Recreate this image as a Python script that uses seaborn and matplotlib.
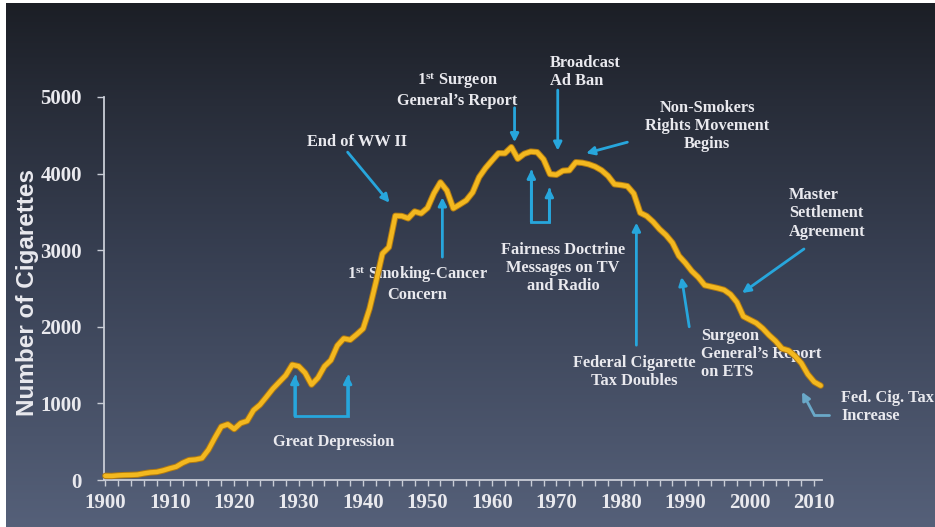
import numpy as np
import pandas as pd
import matplotlib
matplotlib.use("Agg")
import matplotlib.pyplot as plt
import matplotlib.patheffects as pe
import seaborn as sns

# ---------------- data ----------------
years = list(range(1900, 2012))
cigarettes = [
    54, 53, 60, 64, 66, 70, 86, 99, 105, 125,
    151, 173, 223, 260, 267, 285, 395, 551, 697, 727,
    665, 742, 770, 911, 982, 1085, 1191, 1279, 1366, 1504,
    1485, 1399, 1245, 1334, 1483, 1564, 1754, 1847, 1830, 1900,
    1976, 2236, 2585, 2956, 3039, 3449, 3446, 3416, 3505, 3480,
    3552, 3744, 3886, 3778, 3546, 3597, 3650, 3755, 3953, 4073,
    4171, 4266, 4265, 4345, 4194, 4258, 4287, 4280, 4186, 3993,
    3985, 4037, 4043, 4148, 4141, 4122, 4091, 4043, 3970, 3861,
    3851, 3836, 3739, 3488, 3446, 3370, 3274, 3197, 3096, 2926,
    2834, 2727, 2647, 2543, 2524, 2505, 2482, 2423, 2320, 2136,
    2092, 2049, 1979, 1890, 1814, 1716, 1691, 1619, 1525, 1380,
    1280, 1232,
]
ytick_values = [0, 1000, 2000, 3000, 4000, 5000]
xtick_values = list(range(1900, 2011, 10))
ylabel = "Number of Cigarettes"

df = pd.DataFrame({"year": years, "cigs": cigarettes})

# ---------------- style ----------------
sns.set_style("ticks")
plt.rcParams["font.family"] = ["Liberation Serif", "DejaVu Serif"]
plt.rcParams["mathtext.fontset"] = "custom"
plt.rcParams["mathtext.rm"] = "Liberation Serif:bold"
plt.rcParams["mathtext.it"] = "Liberation Serif:bold"
plt.rcParams["mathtext.bf"] = "Liberation Serif:bold"

TXT = "#e9e9ee"
ARROW = "#27a6dc"
SPINE = "#c9cdd6"
GOLD = "#f3b81f"

fig = plt.figure(figsize=(9.35, 5.27), dpi=100)

# background gradient
bg = fig.add_axes([0, 0, 1, 1], zorder=-10)
stops = [0.0, 0.2, 0.5, 1.0]
cols = np.array([[27, 30, 37], [40, 45, 57], [56, 64, 83], [85, 96, 121]]) / 255.0
t = np.linspace(0, 1, 300)
grad = np.stack([np.interp(t, stops, cols[:, c]) for c in range(3)], axis=1)
img = np.repeat(grad[:, None, :], 10, axis=1)
bg.imshow(img, aspect="auto", extent=[0, 1, 0, 1], origin="upper")
bg.set_xlim(0, 1)
bg.set_ylim(0, 1)
bg.axis("off")
# thin white borders (left and top) as in the reference screenshot
bg.add_patch(plt.Rectangle((0, 0), 6 / 935, 1, color="white", lw=0))
bg.add_patch(plt.Rectangle((0, 1 - 3 / 527), 1, 3 / 527, color="white", lw=0))

L, R, B, T = 104 / 935, 822 / 935, 47 / 527, 430 / 527
ax = fig.add_axes([L, B, R - L, T - B])
ax.set_facecolor("none")

sns.lineplot(data=df, x="year", y="cigs", ax=ax, color=GOLD, linewidth=3.2,
             path_effects=[pe.Stroke(linewidth=4.6, foreground="#b07a12"), pe.Normal()],
             clip_on=False, zorder=5)

ax.set_xlim(1899.8, 2011.2)
ax.set_ylim(0, 5000)
ax.set_xlabel("")
ax.set_ylabel("")

ax.set_yticks(ytick_values)
ax.set_yticklabels([str(v) for v in ytick_values])
ax.set_xticks(xtick_values)
ax.set_xticklabels([str(v) for v in xtick_values])
ax.set_xticks(list(range(1900, 2012, 2)), minor=True)

for lab in ax.get_yticklabels() + ax.get_xticklabels():
    lab.set_fontweight("bold")
    lab.set_color(TXT)
    lab.set_fontsize(15)
ax.tick_params(axis="y", which="major", length=5, width=1, color=SPINE, pad=11)
ax.tick_params(axis="x", which="both", length=4, width=1, color=SPINE, pad=5)

sns.despine(ax=ax)
for s in ["left", "bottom"]:
    ax.spines[s].set_color(SPINE)
    ax.spines[s].set_linewidth(1.3)

fig.text(28 / 935, 1 - 292 / 527, ylabel, rotation=90, ha="center", va="center",
         color=TXT, fontsize=17.5, fontweight="bold",
         family=["Liberation Sans", "DejaVu Sans"])

# ---------------- annotations ----------------
FS = 11.8
tkw = dict(color=TXT, fontsize=FS, fontweight="bold", linespacing=1.18,
           annotation_clip=False)


def label(x, y, s, ha="center"):
    ax.annotate(s, xy=(x, y), xycoords="data", ha=ha, va="center", **tkw)


def arrow(x0, y0, x1, y1, color=ARROW):
    ax.annotate("", xy=(x1, y1), xytext=(x0, y0), xycoords="data",
                annotation_clip=False,
                arrowprops=dict(arrowstyle="-|>", color=color, lw=2,
                                mutation_scale=12, shrinkA=0, shrinkB=0))


def bracket(xa, ya, xb, yb, ybot):
    ax.plot([xa, xa, xb, xb], [ya * 0.98 + ybot * 0.02, ybot, ybot, yb * 0.98 + ybot * 0.02],
            color=ARROW, lw=2, clip_on=False, solid_joinstyle="miter")
    arrow(xa, ybot, xa, ya)
    arrow(xb, ybot, xb, yb)


# Great Depression
label(1935.4, 490, "Great Depression")
bracket(1929.4, 1370, 1937.6, 1370, 836)

# End of WW II
label(1939.0, 4410, "End of WW II")
arrow(1937.6, 4280, 1944.1, 3620)

# 1st Smoking-Cancer Concern
label(1948.4, 2560, "1$^{\\rm st}$ Smoking-Cancer\nConcern")
arrow(1952.3, 2910, 1952.3, 3690)

# 1st Surgeon General's Report
label(1954.6, 5090, "1$^{\\rm st}$ Surgeon\nGeneral\u2019s Report")
arrow(1963.5, 4860, 1963.5, 4410)

# Broadcast Ad Ban
label(1969.0, 5330, "Broadcast\nAd Ban", ha="left")
arrow(1970.2, 5090, 1970.2, 4300)

# Non-Smokers Rights Movement Begins
label(1993.4, 4625, "Non-Smokers\nRights Movement\nBegins")
arrow(1981.0, 4410, 1974.6, 4265)

# Fairness Doctrine
label(1971.0, 2770, "Fairness Doctrine\nMessages on TV\nand Radio")
bracket(1966.1, 4050, 1968.9, 3810, 3370)

# Federal Cigarette Tax Doubles
label(1982.1, 1410, "Federal Cigarette\nTax Doubles")
arrow(1982.4, 1760, 1982.4, 3360)

# Surgeon General's Report on ETS
label(1992.5, 1645, "Surgeon\nGeneral\u2019s Report\non ETS", ha="left")
arrow(1990.6, 2000, 1989.4, 2650)

# Master Settlement Agreement
label(2006.1, 3480, "Master\nSettlement\nAgreement", ha="left")
arrow(2008.4, 3016, 1998.8, 2441)

# Fed. Cig. Tax Increase
label(2014.2, 955, "Fed. Cig. Tax\nIncrease", ha="left")
PALE = "#6aa8c8"
ax.plot([2012.3, 2010.0], [849, 849], color=PALE, lw=2, clip_on=False)
arrow(2010.0, 849, 2008.1, 1150, color=PALE)

fig.savefig("out.png", dpi=100)
